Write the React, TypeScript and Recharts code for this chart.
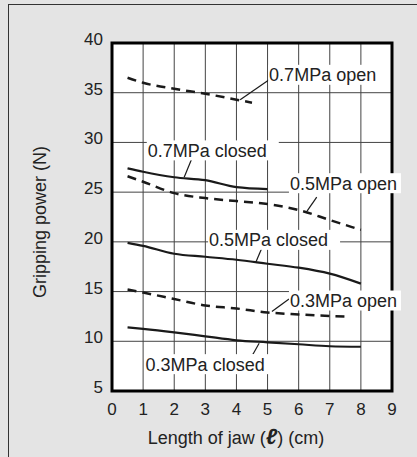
import {
  LineChart,
  Line,
  XAxis,
  YAxis,
  CartesianGrid,
  ReferenceLine,
  ReferenceDot,
  ReferenceArea,
} from 'recharts';

const FONT = '"Liberation Sans", Arial, sans-serif';

// x = length of jaw (cm), y = gripping power (N)
const OPEN_07_X = [0.5, 1, 2, 3, 4, 4.5];
const OPEN_07_Y = [36.5, 36.0, 35.4, 34.9, 34.3, 34.0];
const CLOSED_07_X = [0.5, 1, 2, 3, 4, 5];
const CLOSED_07_Y = [27.4, 27.05, 26.5, 26.2, 25.5, 25.3];
const OPEN_05_X = [0.5, 1, 2, 3, 4, 5, 6, 7, 8];
const OPEN_05_Y = [26.6, 26.05, 24.9, 24.4, 24.1, 23.8, 23.2, 22.2, 21.2];
const CLOSED_05_X = [0.5, 1, 2, 3, 4, 5, 6, 7, 8];
const CLOSED_05_Y = [19.9, 19.6, 18.8, 18.5, 18.2, 17.8, 17.4, 16.8, 15.8];
const OPEN_03_X = [0.5, 1, 2, 3, 4, 5, 6, 7, 7.5];
const OPEN_03_Y = [15.2, 14.9, 14.25, 13.6, 13.3, 12.9, 12.7, 12.55, 12.5];
const CLOSED_03_X = [0.5, 1, 2, 3, 4, 5, 6, 7, 8];
const CLOSED_03_Y = [11.4, 11.25, 10.9, 10.5, 10.1, 9.9, 9.7, 9.5, 9.45];

const X_TICKS = [0, 1, 2, 3, 4, 5, 6, 7, 8, 9];
const Y_TICKS = [5, 10, 15, 20, 25, 30, 35, 40];

// annotation labels: text, anchor (left edge, vertical centre), leader line from -> to
const LABEL_TEXT = ['0.7MPa open', '0.7MPa closed', '0.5MPa open', '0.5MPa closed', '0.3MPa open', '0.3MPa closed'];
const LABEL_X = [5.05, 1.15, 5.72, 3.12, 5.72, 1.08];
const LABEL_Y = [36.8, 29.2, 25.9, 20.2, 14.1, 7.7];
const LEADER_X1 = [5.05, 2.57, 6.58, 4.82, 5.69, 4.73];
const LEADER_Y1 = [36.3, 28.4, 24.5, 19.4, 14.25, 9.8];
const LEADER_X2 = [4.12, 2.32, 6.27, 4.63, 5.14, 4.53];
const LEADER_Y2 = [34.3, 26.5, 23.1, 18.0, 13.0, 8.7];

const toPoints = (xs: number[], ys: number[]) => xs.map((x, i) => ({ x, y: ys[i] }));

const SERIES = [
  { key: 'o07', data: toPoints(OPEN_07_X, OPEN_07_Y), dashed: true },
  { key: 'c07', data: toPoints(CLOSED_07_X, CLOSED_07_Y), dashed: false },
  { key: 'o05', data: toPoints(OPEN_05_X, OPEN_05_Y), dashed: true },
  { key: 'c05', data: toPoints(CLOSED_05_X, CLOSED_05_Y), dashed: false },
  { key: 'o03', data: toPoints(OPEN_03_X, OPEN_03_Y), dashed: true },
  { key: 'c03', data: toPoints(CLOSED_03_X, CLOSED_03_Y), dashed: false },
];

const LabelBox = (props: any) => {
  const { cx, cy, text } = props;
  const w = text.length * 10 + 2;
  return (
    <g>
      <rect x={cx - 1} y={cy - 10} width={w} height={20} fill="#fff" />
      <text x={cx} y={cy + 6.5} fontSize={18} fontFamily={FONT} fill="#222">
        {text}
      </text>
    </g>
  );
};

const YTick = (props: any) => {
  const { x, y, payload } = props;
  return (
    <text x={x} y={y + 2} textAnchor="end" fontSize={17} fontFamily={FONT} fill="#222">
      {payload.value}
    </text>
  );
};

const XTick = (props: any) => {
  const { x, y, payload } = props;
  return (
    <text x={x} y={y + 24} textAnchor="middle" fontSize={17} fontFamily={FONT} fill="#222">
      {payload.value}
    </text>
  );
};

const XTitle = (props: any) => {
  const { viewBox } = props;
  const cx = viewBox.x + viewBox.width / 2 - 16;
  return (
    <text x={cx} y={444} textAnchor="middle" fontSize={18} fontFamily={FONT} fill="#222">
      Length of jaw (
      <tspan fontSize={22} fontWeight="bold" fontStyle="italic">
        ℓ
      </tspan>
      ) (cm)
    </text>
  );
};

const YTitle = () => (
  <text
    x={40}
    y={222}
    transform="rotate(-90 40 222)"
    textAnchor="middle"
    dominantBaseline="central"
    fontSize={18}
    fontFamily={FONT}
    fill="#222"
  >
    Gripping power (N)
  </text>
);

export default function App() {
  return (
    <div
      style={{
        position: 'absolute',
        left: 0,
        top: 0,
        width: 417,
        height: 457,
        background: '#e4e4e4',
        overflow: 'hidden',
      }}
    >
      <div
        style={{
          position: 'absolute',
          left: 8,
          top: 4,
          width: 500,
          height: 500,
          border: '1.5px solid #333',
        }}
      />
      <div style={{ position: 'absolute', left: 0, top: 0 }}>
        <LineChart
          width={417}
          height={457}
          margin={{ top: 43, right: 25, bottom: 36, left: 52 }}
        >
          <CartesianGrid stroke="#444" strokeWidth={1} fill="#fff" fillOpacity={1} />
          <XAxis
            type="number"
            dataKey="x"
            domain={[0, 9]}
            ticks={X_TICKS}
            allowDataOverflow
            axisLine={false}
            tickLine={false}
            tickSize={0}
            tickMargin={0}
            height={30}
            tick={<XTick />}
            label={<XTitle />}
          />
          <YAxis
            type="number"
            dataKey="y"
            domain={[5, 40]}
            ticks={Y_TICKS}
            allowDataOverflow
            axisLine={false}
            tickLine={false}
            tickSize={0}
            tickMargin={9}
            width={60}
            tick={<YTick />}
          />
          {SERIES.map((s) => (
            <Line
              key={s.key}
              data={s.data}
              dataKey="y"
              type="monotone"
              stroke="#1a1a1a"
              strokeWidth={s.dashed ? 2.5 : 2.2}
              strokeDasharray={s.dashed ? '9 6' : undefined}
              dot={false}
              activeDot={false}
              isAnimationActive={false}
            />
          ))}
          {LABEL_TEXT.map((t, i) => (
            <ReferenceLine
              key={'l' + i}
              segment={[
                { x: LEADER_X1[i], y: LEADER_Y1[i] },
                { x: LEADER_X2[i], y: LEADER_Y2[i] },
              ]}
              stroke="#1a1a1a"
              strokeWidth={1.2}
            />
          ))}
          {LABEL_TEXT.map((t, i) => (
            <ReferenceDot
              key={'d' + i}
              x={LABEL_X[i]}
              y={LABEL_Y[i]}
              r={0}
              ifOverflow="visible"
              shape={(p: any) => <LabelBox {...p} text={t} />}
            />
          ))}
          <ReferenceArea
            x1={0}
            x2={9}
            y1={5}
            y2={40}
            fill="none"
            stroke="#000"
            strokeWidth={3}
            ifOverflow="visible"
          />
          <YTitle />
        </LineChart>
      </div>
    </div>
  );
}
